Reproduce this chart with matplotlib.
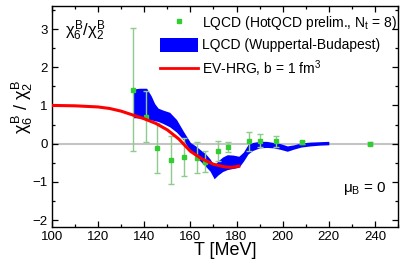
import matplotlib
matplotlib.use('Agg')
import matplotlib.pyplot as plt
from matplotlib.lines import Line2D
from matplotlib.patches import Patch
from matplotlib.ticker import MultipleLocator

plt.rcParams['font.family'] = ['Liberation Sans', 'DejaVu Sans']
plt.rcParams['mathtext.fontset'] = 'custom'
plt.rcParams['mathtext.rm'] = 'Liberation Sans'
plt.rcParams['mathtext.it'] = 'Liberation Sans'
plt.rcParams['mathtext.bf'] = 'Liberation Sans:bold'

# HotQCD preliminary points (N_t = 8)
T_hot = [135.0, 140.8, 145.4, 151.5, 157.3, 162.9, 166.4, 171.8, 176.5, 185.6, 190.3, 196.9, 208.2, 238.0]
r_hot = [1.41, 0.71, -0.11, -0.43, -0.35, -0.37, -0.47, -0.19, -0.09, 0.06, 0.08, 0.06, 0.04, 0.0]
err_hot = [1.61, 0.67, 0.65, 0.63, 0.50, 0.41, 0.27, 0.26, 0.12, 0.24, 0.16, 0.14, 0.04, 0.03]

# Wuppertal-Budapest band
T_wb = [135, 138, 141, 143, 144.5, 146, 148, 151, 154, 157, 160, 162.5, 164.5, 166.5, 168.5, 170.3,
        172, 174, 176, 178.5, 181, 183, 185, 187, 190, 193, 196, 199, 202, 205, 208, 212, 216, 220]
wb_hi = [1.43, 1.45, 1.45, 1.25, 1.05, 0.93, 0.88, 0.82, 0.63, 0.32, 0.03, -0.07, -0.17, -0.26, -0.40, -0.57,
         -0.45, -0.35, -0.29, -0.30, -0.33, -0.22, -0.02, 0.03, 0.06, 0.06, 0.03, 0.0, -0.06, -0.03, 0.02, 0.04, 0.05, 0.06]
wb_lo = [0.68, 0.67, 0.65, 0.62, 0.60, 0.58, 0.53, 0.44, 0.30, 0.10, -0.20, -0.35, -0.47, -0.59, -0.72, -0.92,
         -0.82, -0.73, -0.68, -0.65, -0.62, -0.46, -0.27, -0.18, -0.11, -0.10, -0.11, -0.15, -0.20, -0.14, -0.09, -0.06, -0.04, -0.03]

# EV-HRG, b = 1 fm^3
T_hrg = [100, 110, 120, 125, 130, 135, 140, 145, 150, 155, 160, 165, 170, 175, 178, 181]
r_hrg = [1.0, 0.99, 0.96, 0.92, 0.85, 0.75, 0.65, 0.53, 0.36, 0.12, -0.2, -0.40, -0.54, -0.61, -0.62, -0.59]

green = '#33cc33'
errc = '#8fca8f'

fig = plt.figure(figsize=(4, 2.66), dpi=100)
ax = fig.add_axes([0.13, 0.147, 0.865, 0.83])

ax.axhline(0, color='#c4c4c4', lw=1.5, zorder=0)
ax.fill_between(T_wb, wb_lo, wb_hi, color='#0000ff', lw=0, zorder=2)
ax.errorbar(T_hot, r_hot, yerr=err_hot, fmt='none', ecolor=errc, elinewidth=1.0,
            capsize=2, capthick=1.0, zorder=3)
ax.plot(T_hot, r_hot, 's', color=green, ms=3.5, mec=green, zorder=4)
ax.plot(T_hrg, r_hrg, color='#ff0000', lw=2.2, zorder=5)

ax.set_xlim(100, 250)
ax.set_ylim(-2.18, 3.6)
ax.xaxis.set_major_locator(MultipleLocator(20))
ax.xaxis.set_minor_locator(MultipleLocator(10))
ax.yaxis.set_major_locator(MultipleLocator(1))
ax.yaxis.set_minor_locator(MultipleLocator(0.5))
ax.tick_params(which='both', direction='in', top=True, right=True, labelsize=9.5, width=0.9, pad=3)
ax.tick_params(which='major', length=4.5)
ax.tick_params(which='minor', length=2.5)
for s in ax.spines.values():
    s.set_linewidth(1.0)

ax.set_xlabel('T [MeV]', fontsize=13)
ax.xaxis.set_label_coords(0.5, -0.07)
ax.set_ylabel(r'$\chi_6^B$ / $\chi_2^B$', fontsize=13)
ax.yaxis.set_label_coords(-0.05, 0.545)

ax.text(0.038, 0.89, r'$\chi_6^B/\chi_2^B$', transform=ax.transAxes, fontsize=12, ha='left', va='center')
ax.text(0.841, 0.176, r'$\mu_B$ = 0', transform=ax.transAxes, fontsize=11, ha='left', va='center')

handles = [
    Line2D([], [], marker='s', ls='none', color=green, ms=2.5),
    Patch(facecolor='#0000ff', edgecolor='none'),
    Line2D([], [], color='#ff0000', lw=2.0),
]
labels = [r'LQCD (HotQCD prelim., N$_t$ = 8)',
          'LQCD (Wuppertal-Budapest)',
          r'EV-HRG, b = 1 fm$^3$']
ax.legend(handles, labels, loc='upper left', bbox_to_anchor=(0.312, 0.965), frameon=False,
          fontsize=10, borderpad=0, borderaxespad=0, handlelength=2.75, handleheight=1.2,
          handletextpad=0.25, labelspacing=0.42)

plt.savefig('out.png', dpi=100)
plt.close(fig)
